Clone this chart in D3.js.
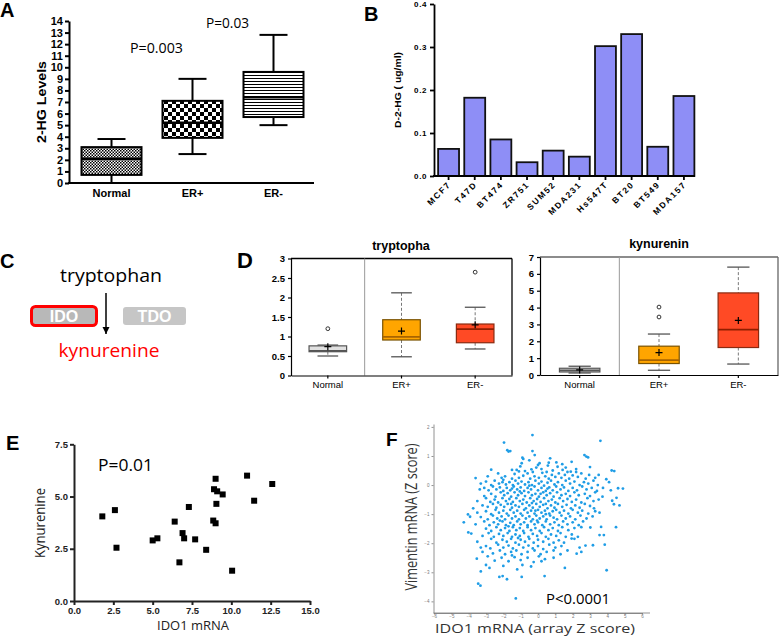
<!DOCTYPE html>
<html><head><meta charset="utf-8">
<script src="https://cdn.jsdelivr.net/npm/d3@7/dist/d3.min.js"></script>
<style>
html,body{margin:0;padding:0;background:#fff}
svg{display:block}
</style></head>
<body><svg id="chart" width="779" height="637"></svg>
<script>
// ================= DATA =================
// Panel A
const aGroups = ["Normal", "ER+", "ER-"];
const aLow  = [0.0, 2.5, 5.0];
const aQ1   = [0.7, 3.9, 5.7];
const aMed  = [2.1, 5.2, 7.4];
const aQ3   = [3.1, 7.1, 9.6];
const aHigh = [3.8, 9.0, 12.8];
const aTicks = [0,1,2,3,4,5,6,7,8,9,10,11,12,13,14];
const aPvals = ["P=0.003", "P=0.03"];

// Panel B
const bCells  = ["MCF7","T47D","BT474","ZR751","SUM52","MDA231","Hs547T","BT20","BT549","MDA157"];
const bValues = [0.063, 0.182, 0.085, 0.032, 0.059, 0.045, 0.302, 0.330, 0.068, 0.186];
const bTicks  = [0.0, 0.1, 0.2, 0.3, 0.4];

// Panel D
const dGroups = ["Normal", "ER+", "ER-"];
const trpLow  = [0.50, 0.48, 0.68];
const trpQ1   = [0.61, 0.91, 0.84];
const trpMed  = [0.63, 0.99, 1.19];
const trpQ3   = [0.76, 1.43, 1.32];
const trpHigh = [0.78, 2.12, 1.75];
const trpMean = [0.74, 1.14, 1.30];
const trpOutG = ["Normal", "ER-"];
const trpOutV = [1.20, 2.65];
const trpTicks = [0, 0.5, 1, 1.5, 2, 2.5, 3];

const kynLow  = [0.12, 0.28, 0.65];
const kynQ1   = [0.18, 0.68, 1.63];
const kynMed  = [0.28, 0.88, 2.69];
const kynQ3   = [0.40, 1.71, 4.87];
const kynHigh = [0.52, 2.43, 6.40];
const kynMean = [0.30, 1.33, 3.24];
const kynOutG = ["ER+", "ER+"];
const kynOutV = [4.03, 3.44];
const kynTicks = [0,1,2,3,4,5,6,7];

// Panel E
const eX = [1.8, 2.6, 2.7, 5.0, 5.3, 6.4, 6.7, 6.9, 7.0, 7.3, 7.7, 8.4, 9.0, 8.9, 9.1, 9.45, 9.05, 8.85, 9.0, 10.05, 11.0, 11.45, 12.6];
const eY = [4.05, 4.35, 2.55, 2.9, 3.0, 3.8, 1.85, 3.25, 3.0, 4.5, 2.95, 2.45, 5.85, 5.35, 5.25, 5.1, 4.65, 3.85, 3.72, 1.45, 6.0, 4.8, 5.6];
const eXTicks = [0, 2.5, 5, 7.5, 10, 12.5, 15];
const eYTicks = [0, 2.5, 5, 7.5];

// Panel F (IDO1 z-score, Vimentin z-score)
const fPoints = [
[-0.32,1.72],[3.6,1.52],[-1.96,1.46],[-1.77,1.2],[-1.7,1.15],[-1.6,1.17],[-0.32,1.17],[-0.19,1.03],[2.68,1.03],[2.79,0.98],[2.89,0.95],[0.7,0.92],[-0.9,0.94],[-0.85,0.9],[1.94,0.8],[1.06,0.78],[0.62,0.77],[1.4,0.72],[-0.5,0.85],
[-2.7,0.53],[4.25,0.5],[-1.5,0.52],[-1.23,0.52],[-0.75,0.48],[-0.38,0.54],[0,0.69],[0.09,0.75],[0.57,0.67],[1.13,0.63],[1.42,0.52],[1.89,0.46],[-0.94,0.75],[-1.02,0.64],[0.2,0.55],[-0.1,0.6],[1.6,0.6],[2.2,0.55],[3.0,0.62],[-1.1,0.47],[0.85,0.5],
[-3.6,0.24],[-2.3,0.4],[-1.9,0.3],[-1.5,0.22],[-1.35,0.38],[-1.1,0.25],[-0.85,0.32],[-0.6,0.4],[-0.45,0.22],[-0.2,0.3],[0.05,0.25],[0.25,0.42],[0.42,0.3],[0.62,0.22],[0.8,0.35],[1.0,0.28],[1.2,0.4],[1.35,0.25],[1.55,0.35],[1.8,0.22],[2.0,0.33],[2.3,0.28],[2.5,0.4],[2.75,0.22],[2.95,0.35],[3.3,0.25],[3.5,0.35],[3.94,0.2],[4.4,0.48],[-2.9,0.3],[-2.1,0.25],[-0.3,0.45],[0.5,0.45],[1.7,0.45],[2.2,0.45],
[-3.3,0.05],[-3.0,0.12],[-2.7,0.0],[-2.5,0.15],[-2.25,0.05],[-2.0,0.18],[-1.85,0.02],[-1.65,0.1],[-1.45,0.0],[-1.3,0.15],[-1.15,0.05],[-0.95,0.12],[-0.75,0.02],[-0.55,0.1],[-0.35,0.0],[-0.15,0.15],[0.05,0.05],[0.2,0.12],[0.35,-0.02],[0.55,0.08],[0.75,0.15],[0.95,0.02],[1.15,0.1],[1.4,0.0],[1.6,0.15],[1.85,0.05],[2.1,0.12],[2.4,0.0],[2.65,0.1],[2.9,0.05],[3.2,0.15],[3.45,0.0],[4.1,0.1],[4.9,-0.12],[4.62,-0.11],[-2.05,0.1],
[-3.36,-0.15],[-3.1,-0.1],[-2.85,-0.18],[-2.6,-0.05],[-2.4,-0.15],[-2.2,-0.08],[-2.0,-0.2],[-1.8,-0.1],[-1.6,-0.18],[-1.4,-0.05],[-1.2,-0.15],[-1.0,-0.08],[-0.8,-0.2],[-0.6,-0.1],[-0.4,-0.15],[-0.2,-0.05],[0.0,-0.18],[0.2,-0.1],[0.45,-0.2],[0.65,-0.08],[0.85,-0.18],[1.05,-0.05],[1.3,-0.15],[1.5,-0.08],[1.75,-0.2],[2.0,-0.1],[2.25,-0.18],[2.55,-0.05],[2.8,-0.15],[3.1,-0.1],[3.4,-0.2],[3.75,-0.1],[4.2,-0.18],[-1.5,-0.12],[-0.5,-0.02],[0.55,-0.12],
[-3.1,-0.38],[-2.7,-0.3],[-2.45,-0.4],[-2.15,-0.25],[-1.95,-0.35],[-1.75,-0.28],[-1.55,-0.4],[-1.35,-0.25],[-1.15,-0.35],[-0.95,-0.28],[-0.75,-0.38],[-0.55,-0.25],[-0.35,-0.35],[-0.15,-0.3],[0.05,-0.4],[0.3,-0.25],[0.5,-0.35],[0.7,-0.28],[0.9,-0.4],[1.1,-0.25],[1.35,-0.35],[1.6,-0.3],[1.85,-0.38],[2.1,-0.25],[2.35,-0.35],[2.7,-0.3],[3.0,-0.38],[3.3,-0.25],[3.72,-0.4],[4.53,-0.44],[-1.05,-0.22],[0.15,-0.3],
[-3.5,-0.55],[-3.0,-0.45],[-2.75,-0.58],[-2.5,-0.5],[-2.3,-0.6],[-2.05,-0.45],[-1.85,-0.55],[-1.65,-0.48],[-1.45,-0.58],[-1.25,-0.45],[-1.05,-0.55],[-0.85,-0.5],[-0.65,-0.6],[-0.45,-0.45],[-0.25,-0.55],[-0.05,-0.48],[0.15,-0.58],[0.35,-0.45],[0.6,-0.55],[0.8,-0.5],[1.0,-0.6],[1.25,-0.45],[1.45,-0.55],[1.7,-0.48],[1.95,-0.58],[2.2,-0.5],[2.5,-0.6],[2.85,-0.45],[3.2,-0.55],[3.5,-0.5],[4.28,-0.54],[4.38,-0.66],[-1.55,-0.65],[-0.35,-0.62],[0.45,-0.65],
[-3.74,-0.8],[-3.2,-0.7],[-2.9,-0.75],[-2.6,-0.65],[-2.4,-0.78],[-2.15,-0.68],[-1.95,-0.75],[-1.75,-0.65],[-1.5,-0.78],[-1.3,-0.7],[-1.1,-0.75],[-0.9,-0.65],[-0.7,-0.8],[-0.5,-0.7],[-0.3,-0.78],[-0.1,-0.65],[0.1,-0.75],[0.3,-0.68],[0.55,-0.8],[0.75,-0.7],[0.95,-0.78],[1.15,-0.65],[1.4,-0.75],[1.65,-0.68],[1.9,-0.8],[2.15,-0.7],[2.4,-0.78],[2.7,-0.65],[3.23,-0.8],[3.0,-0.72],[4.7,-0.7],[-0.15,-0.88],[0.85,-0.9],
[-3.5,-0.95],[-3.0,-0.9],[-2.7,-1.0],[-2.45,-0.85],[-2.25,-0.95],[-2.0,-0.88],[-1.8,-0.98],[-1.6,-0.85],[-1.4,-0.95],[-1.2,-0.88],[-1.0,-0.98],[-0.8,-0.85],[-0.6,-0.95],[-0.4,-0.88],[-0.2,-0.98],[0.0,-0.85],[0.2,-0.95],[0.4,-0.88],[0.65,-0.98],[1.05,-0.85],[1.25,-0.95],[1.5,-0.88],[1.75,-0.98],[2.0,-0.85],[2.3,-0.95],[2.55,-0.88],[2.9,-0.98],[3.3,-0.9],[3.55,-0.95],
[-4.04,-1.01],[-3.92,-1.09],[-3.3,-1.1],[-2.9,-1.18],[-2.6,-1.05],[-2.35,-1.15],[-2.1,-1.08],[-1.9,-1.18],[-1.7,-1.05],[-1.5,-1.15],[-1.3,-1.08],[-1.1,-1.18],[-0.9,-1.05],[-0.7,-1.15],[-0.5,-1.08],[-0.3,-1.18],[-0.1,-1.05],[0.1,-1.15],[0.3,-1.08],[0.5,-1.18],[0.7,-1.05],[0.9,-1.12],[1.1,-1.18],[1.35,-1.05],[1.6,-1.15],[1.85,-1.08],[2.15,-1.18],[2.45,-1.05],[2.8,-1.15],[3.15,-1.08],[0.45,-1.0],[-0.05,-1.22],
[-4.28,-1.28],[-3.6,-1.35],[-3.1,-1.25],[-2.8,-1.38],[-2.55,-1.28],[-2.3,-1.35],[-2.05,-1.25],[-1.85,-1.38],[-1.6,-1.3],[-1.4,-1.38],[-1.2,-1.25],[-1.0,-1.35],[-0.8,-1.28],[-0.6,-1.38],[-0.4,-1.25],[-0.2,-1.35],[0.0,-1.28],[0.25,-1.38],[0.45,-1.25],[0.7,-1.35],[0.95,-1.28],[1.2,-1.38],[1.45,-1.25],[1.7,-1.35],[2.0,-1.28],[2.35,-1.38],[2.6,-1.25],[-2.2,-1.22],
[-3.0,-1.5],[-2.7,-1.58],[-2.4,-1.45],[-2.15,-1.55],[-1.9,-1.48],[-1.65,-1.58],[-1.45,-1.45],[-1.25,-1.55],[-1.05,-1.48],[-0.85,-1.58],[-0.6,-1.45],[-0.4,-1.55],[-0.15,-1.48],[0.1,-1.58],[0.35,-1.45],[0.6,-1.55],[0.85,-1.48],[1.15,-1.58],[1.4,-1.45],[1.75,-1.55],[2.1,-1.48],[2.5,-1.45],[3.02,-1.46],[3.64,-1.44],[4.5,-1.45],[-1.7,-1.42],
[-4.02,-1.63],[-3.85,-1.67],[-3.2,-1.75],[-2.85,-1.65],[-2.55,-1.78],[-2.25,-1.68],[-2.0,-1.75],[-1.75,-1.65],[-1.5,-1.78],[-1.3,-1.7],[-1.05,-1.75],[-0.8,-1.65],[-0.55,-1.78],[-0.3,-1.68],[-0.05,-1.75],[0.2,-1.65],[0.45,-1.78],[0.75,-1.7],[1.05,-1.75],[1.3,-1.65],[1.6,-1.78],[1.95,-1.7],[2.3,-1.78],[3.55,-1.72],[3.8,-1.72],
[-3.5,-1.95],[-2.7,-1.85],[-2.4,-1.98],[-2.05,-1.88],[-1.8,-1.95],[-1.55,-1.85],[-1.3,-1.98],[-1.0,-1.88],[-0.75,-1.95],[-0.5,-1.85],[-0.25,-1.98],[0.0,-1.88],[0.3,-1.95],[0.6,-1.85],[0.9,-1.98],[1.2,-1.9],[1.5,-1.98],[1.94,-1.84],[2.1,-1.85],[-1.15,-1.82],
[-3.0,-2.1],[-2.75,-2.18],[-2.3,-2.05],[-2.0,-2.15],[-1.7,-2.08],[-1.45,-2.18],[-1.1,-2.05],[-0.85,-2.15],[-0.55,-2.08],[-0.3,-2.18],[0.0,-2.1],[0.3,-2.2],[0.65,-2.05],[1.0,-2.15],[1.35,-2.1],[2.74,-2.08],[3.17,-2.07],[3.85,-2.05],[-3.3,-2.15],[2.4,-2.15],
[-3.2,-2.3],[-2.6,-2.35],[-2.2,-2.25],[-1.9,-2.38],[-1.55,-2.3],[-1.25,-2.25],[-0.95,-2.38],[-0.6,-2.3],[-0.2,-2.25],[0.15,-2.38],[0.5,-2.3],[0.9,-2.25],[1.3,-2.38],[2.23,-2.36],[2.5,-2.3],[1.7,-2.25],
[-3.53,-2.53],[-2.9,-2.45],[-2.5,-2.6],[-2.1,-2.5],[-1.7,-2.62],[-1.35,-2.48],[-1.0,-2.58],[-0.6,-2.5],[-0.25,-2.65],[0.05,-2.45],[0.4,-2.55],[0.9,-2.5],[-1.5,-2.42],[0.2,-2.62],
[-3.3,-2.97],[-3.45,-3.39],[-3.32,-3.46],[-1.28,-3.9],[-2.23,-3.16],[-2.04,-3.13],[-1.79,-3.24],[-0.94,-3.16],[0.38,-3.13],[1.55,-2.85],[3.96,-2.93],[-2.8,-2.85],[-2.0,-2.78],[-1.2,-2.9],[-0.9,-2.75],[-0.4,-2.8],[-3.0,-2.75]
];
const fXTicks = [-6,-5,-4,-3,-2,-1,0,1,2,3,4,5,6];
const fYTicks = [-4,-3,-2,-1,0,1,2];

// ================= DRAW =================
const ARIAL = "'Liberation Sans', Arial, sans-serif";
const CAL = "'Open Sans', 'Noto Sans', sans-serif";
const svg = d3.select("#chart");
svg.append("rect").attr("width", 779).attr("height", 637).attr("fill", "#fff");
const defs = svg.append("defs");

function styleAxis(g, size, weight, color, sw) {
  g.attr("font-family", ARIAL).attr("font-size", size).attr("font-weight", weight);
  g.selectAll("text").attr("fill", color);
  g.selectAll("line").attr("stroke", color).attr("stroke-width", sw);
  g.select(".domain").attr("stroke", color).attr("stroke-width", sw);
}
function label(txt, x, y, opts) {
  const t = svg.append("text").attr("x", x).attr("y", y).text(txt)
    .attr("font-family", opts.family || ARIAL)
    .attr("font-size", opts.size || 12)
    .attr("font-weight", opts.weight || "normal")
    .attr("fill", opts.fill || "#000")
    .attr("text-anchor", opts.anchor || "start");
  if (opts.len) t.attr("textLength", opts.len).attr("lengthAdjust", "spacingAndGlyphs");
  if (opts.rotate) t.attr("transform", `rotate(${opts.rotate},${x},${y})`);
  if (opts.ls) t.attr("letter-spacing", opts.ls);
  return t;
}

// ---------- Panel A ----------
{
  const pN = defs.append("pattern").attr("id", "patN").attr("patternUnits", "userSpaceOnUse").attr("width", 3).attr("height", 3);
  pN.append("rect").attr("width", 3).attr("height", 3).attr("fill", "#fff");
  pN.append("rect").attr("width", 1.5).attr("height", 1.5).attr("fill", "#000");
  pN.append("rect").attr("x", 1.5).attr("y", 1.5).attr("width", 1.5).attr("height", 1.5).attr("fill", "#000");
  const pE = defs.append("pattern").attr("id", "patP").attr("patternUnits", "userSpaceOnUse").attr("width", 8).attr("height", 8);
  pE.append("rect").attr("width", 8).attr("height", 8).attr("fill", "#fff");
  pE.append("rect").attr("width", 4).attr("height", 4).attr("fill", "#000");
  pE.append("rect").attr("x", 4).attr("y", 4).attr("width", 4).attr("height", 4).attr("fill", "#000");
  const pM = defs.append("pattern").attr("id", "patM").attr("patternUnits", "userSpaceOnUse").attr("width", 3).attr("height", 3);
  pM.append("rect").attr("width", 3).attr("height", 3).attr("fill", "#fff");
  pM.append("rect").attr("width", 3).attr("height", 1).attr("fill", "#000");
  const pats = ["url(#patN)", "url(#patP)", "url(#patM)"];

  const x = d3.scaleBand().domain(aGroups).range([71, 314]);
  const y = d3.scaleLinear().domain([0, 14]).range([183, 21]);
  const bw = 60, cw = 28;
  const g = svg.append("g");
  aGroups.forEach((k, i) => {
    const cx = x(k) + x.bandwidth() / 2;
    g.append("line").attr("x1", cx).attr("x2", cx).attr("y1", y(aHigh[i])).attr("y2", y(aQ3[i])).attr("stroke", "#000").attr("stroke-width", 2);
    g.append("line").attr("x1", cx).attr("x2", cx).attr("y1", y(aQ1[i])).attr("y2", y(aLow[i])).attr("stroke", "#000").attr("stroke-width", 2);
    g.append("line").attr("x1", cx - cw / 2).attr("x2", cx + cw / 2).attr("y1", y(aHigh[i])).attr("y2", y(aHigh[i])).attr("stroke", "#000").attr("stroke-width", 2);
    g.append("line").attr("x1", cx - cw / 2).attr("x2", cx + cw / 2).attr("y1", y(aLow[i])).attr("y2", y(aLow[i])).attr("stroke", "#000").attr("stroke-width", 2);
    g.append("rect").attr("x", cx - bw / 2).attr("width", bw).attr("y", y(aQ3[i])).attr("height", y(aQ1[i]) - y(aQ3[i]))
      .attr("fill", pats[i]).attr("stroke", "#000").attr("stroke-width", 2);
    g.append("line").attr("x1", cx - bw / 2).attr("x2", cx + bw / 2).attr("y1", y(aMed[i])).attr("y2", y(aMed[i])).attr("stroke", "#000").attr("stroke-width", 2.5);
  });
  const ya = svg.append("g").attr("transform", "translate(69,0)")
    .call(d3.axisLeft(y).tickValues(aTicks).tickFormat(d3.format("d")).tickSize(4).tickSizeOuter(0).tickPadding(2));
  styleAxis(ya, 11, "bold", "#000", 2);
  const xa = svg.append("g").attr("transform", "translate(0,183)")
    .call(d3.axisBottom(x).tickSize(0).tickPadding(6));
  styleAxis(xa, 11, "bold", "#000", 2);
  xa.select(".domain").remove();
  svg.append("line").attr("x1", 68).attr("x2", 314).attr("y1", 183).attr("y2", 183).attr("stroke", "#000").attr("stroke-width", 2);
  label("2-HG  Levels", 46, 102, { size: 13, weight: "bold", anchor: "middle", rotate: -90, len: 82 });
  label(aPvals[0], 130, 53, { family: CAL, size: 14, len: 53 });
  label(aPvals[1], 206, 28, { family: CAL, size: 14, len: 43 });
  label("A", 0, 17, { size: 20, weight: "bold" });
}

// ---------- Panel B ----------
{
  const x = d3.scaleBand().domain(bCells).range([435.5, 697]).paddingInner(0.2).paddingOuter(0.1);
  const y = d3.scaleLinear().domain([0, 0.4]).range([176, 4]);
  svg.append("g").selectAll("rect").data(bCells).join("rect")
    .attr("x", d => x(d)).attr("width", x.bandwidth())
    .attr("y", (d, i) => y(bValues[i])).attr("height", (d, i) => y(0) - y(bValues[i]))
    .attr("fill", "#8e8ef6").attr("stroke", "#111").attr("stroke-width", 1.8);
  const ya = svg.append("g").attr("transform", "translate(434,0)")
    .call(d3.axisLeft(y).tickValues(bTicks).tickFormat(d3.format(".1f")).tickSize(4).tickSizeOuter(0).tickPadding(3));
  styleAxis(ya, 8, "bold", "#000", 1.8);
  ya.selectAll("text").attr("letter-spacing", 0.6);
  const xa = svg.append("g").attr("transform", "translate(0,176)")
    .call(d3.axisBottom(x).tickSize(4).tickSizeOuter(0));
  styleAxis(xa, 8, "bold", "#000", 1.8);
  xa.select(".domain").remove();
  xa.selectAll("text").remove();
  svg.append("line").attr("x1", 433).attr("x2", 695).attr("y1", 176).attr("y2", 176).attr("stroke", "#000").attr("stroke-width", 1.8);
  bCells.forEach(d => {
    const cx = x(d) + x.bandwidth() / 2 + 3;
    label(d, cx, 185, { size: 8.5, weight: "bold", anchor: "end", rotate: -45, ls: 1.6 });
  });
  label("D-2-HG ( ug/ml)", 401, 90, { size: 8.5, weight: "bold", anchor: "middle", rotate: -90, len: 76 });
  label("B", 364, 21, { size: 20, weight: "bold" });
}

// ---------- Panel C ----------
{
  label("C", 0, 268, { size: 20, weight: "bold" });
  label("tryptophan", 111, 282, { family: CAL, size: 19, anchor: "middle", len: 102 });
  const mk = defs.append("marker").attr("id", "arr").attr("viewBox", "0 0 10 10").attr("refX", 10).attr("refY", 5)
    .attr("markerWidth", 5).attr("markerHeight", 5).attr("markerUnits", "strokeWidth").attr("orient", "auto");
  mk.append("path").attr("d", "M0,0L10,5L0,10z").attr("fill", "#000");
  svg.append("line").attr("x1", 106).attr("x2", 106).attr("y1", 293).attr("y2", 334).attr("stroke", "#000").attr("stroke-width", 1.5).attr("marker-end", "url(#arr)");
  svg.append("rect").attr("x", 31.5).attr("y", 306.5).attr("width", 65).attr("height", 19).attr("rx", 4)
    .attr("fill", "#b8b8b8").attr("stroke", "#ff0000").attr("stroke-width", 3);
  label("IDO", 64, 322, { size: 16, weight: "bold", fill: "#fff", anchor: "middle" });
  svg.append("rect").attr("x", 123).attr("y", 307).attr("width", 63).attr("height", 18).attr("rx", 3).attr("fill", "#c6c6c6");
  label("TDO", 154.5, 322, { size: 16, weight: "bold", fill: "#fff", anchor: "middle" });
  label("kynurenine", 109, 357, { family: CAL, size: 19, anchor: "middle", len: 101, fill: "#ff0000" });
}

// ---------- Panel D ----------
const dFill = ["#e0e0e0", "#ffa500", "#ff4a25"];
const dStroke = ["#555", "#7a5200", "#8a2a10"];
const dMedC = ["#555", "#a86400", "#8f1e00"];
function boxPlot(x0, x1, y0, y1, ymax, ticks, lo, q1, med, q3, hi, mean, outG, outV, title, titleX, titleY, frameCol) {
  const x = d3.scaleBand().domain(dGroups).range([x0, x1]);
  const y = d3.scaleLinear().domain([0, ymax]).range([y1, y0]);
  const g = svg.append("g");
  const bw = x.bandwidth() * 0.51, cw = bw * 0.55;
  g.append("line").attr("x1", x0).attr("x2", x1).attr("y1", y0).attr("y2", y0).attr("stroke", frameCol).attr("stroke-width", 1.3);
  g.append("line").attr("x1", x1).attr("x2", x1).attr("y1", y0).attr("y2", y1).attr("stroke", frameCol).attr("stroke-width", 1.3);
  const sep = x(dGroups[1]);
  g.append("line").attr("x1", sep).attr("x2", sep).attr("y1", y0).attr("y2", y1).attr("stroke", "#999").attr("stroke-width", 1);
  dGroups.forEach((k, i) => {
    const cx = x(k) + x.bandwidth() / 2;
    g.append("line").attr("x1", cx).attr("x2", cx).attr("y1", y(hi[i])).attr("y2", y(q3[i])).attr("stroke", "#777").attr("stroke-width", 1).attr("stroke-dasharray", "3,2");
    g.append("line").attr("x1", cx).attr("x2", cx).attr("y1", y(q1[i])).attr("y2", y(lo[i])).attr("stroke", "#777").attr("stroke-width", 1).attr("stroke-dasharray", "3,2");
    g.append("line").attr("x1", cx - cw / 2).attr("x2", cx + cw / 2).attr("y1", y(hi[i])).attr("y2", y(hi[i])).attr("stroke", "#555").attr("stroke-width", 1.3);
    g.append("line").attr("x1", cx - cw / 2).attr("x2", cx + cw / 2).attr("y1", y(lo[i])).attr("y2", y(lo[i])).attr("stroke", "#555").attr("stroke-width", 1.3);
    g.append("rect").attr("x", cx - bw / 2).attr("width", bw).attr("y", y(q3[i])).attr("height", y(q1[i]) - y(q3[i]))
      .attr("fill", dFill[i]).attr("stroke", dStroke[i]).attr("stroke-width", 1.2);
    g.append("line").attr("x1", cx - bw / 2).attr("x2", cx + bw / 2).attr("y1", y(med[i])).attr("y2", y(med[i])).attr("stroke", dMedC[i]).attr("stroke-width", 1.8);
    const my = y(mean[i]);
    g.append("path").attr("d", `M${cx - 3.5},${my}H${cx + 3.5}M${cx},${my - 3.5}V${my + 3.5}`).attr("stroke", "#000").attr("stroke-width", 1.2);
  });
  outG.forEach((k, i) => {
    g.append("circle").attr("cx", x(k) + x.bandwidth() / 2).attr("cy", y(outV[i])).attr("r", 1.9)
      .attr("fill", "#fff").attr("stroke", "#333").attr("stroke-width", 1);
  });
  const ya = svg.append("g").attr("transform", `translate(${x0},0)`)
    .call(d3.axisLeft(y).tickValues(ticks).tickFormat(d3.format("~g")).tickSize(3).tickSizeOuter(0).tickPadding(3));
  styleAxis(ya, 9.5, "bold", "#000", 1.2);
  const xa = svg.append("g").attr("transform", `translate(0,${y1})`)
    .call(d3.axisBottom(x).tickSize(3).tickSizeOuter(0).tickPadding(3));
  styleAxis(xa, 9.5, "normal", "#000", 1.2);
  label(title, titleX, titleY, { size: 12.5, weight: "bold", anchor: "middle" });
}
boxPlot(291, 512, 258.5, 375.5, 3, trpTicks, trpLow, trpQ1, trpMed, trpQ3, trpHigh, trpMean, trpOutG, trpOutV, "tryptopha", 401, 250, "#000");
boxPlot(540, 778, 257, 375, 7, kynTicks, kynLow, kynQ1, kynMed, kynQ3, kynHigh, kynMean, kynOutG, kynOutV, "kynurenin", 659, 248, "#666");
label("D", 237, 268, { size: 22, weight: "bold" });

// ---------- Panel E ----------
{
  const x = d3.scaleLinear().domain([0, 15]).range([74, 310]);
  const y = d3.scaleLinear().domain([0, 7.5]).range([601, 444.3]);
  const s = 6;
  svg.append("g").selectAll("rect").data(eX).join("rect")
    .attr("x", d => x(d) - s / 2).attr("y", (d, i) => y(eY[i]) - s / 2).attr("width", s).attr("height", s).attr("fill", "#000");
  const ya = svg.append("g").attr("transform", "translate(74,0)")
    .call(d3.axisLeft(y).tickValues(eYTicks).tickFormat(d3.format(".1f")).tickSize(4).tickSizeOuter(0).tickPadding(2));
  styleAxis(ya, 9.5, "bold", "#222", 2);
  const xa = svg.append("g").attr("transform", "translate(0,601)")
    .call(d3.axisBottom(x).tickValues(eXTicks).tickFormat(d3.format(".1f")).tickSize(4).tickSizeOuter(0).tickPadding(2));
  styleAxis(xa, 9.5, "bold", "#222", 2);
  label("Kynurenine", 45, 523, { family: CAL, size: 14, anchor: "middle", rotate: -90, len: 70, fill: "#222" });
  label("IDO1 mRNA", 193, 630, { family: CAL, size: 13, anchor: "middle", len: 72, fill: "#222" });
  label("P=0.01", 98, 471, { family: CAL, size: 17, len: 55 });
  label("E", 6, 450, { size: 20, weight: "bold" });
}

// ---------- Panel F ----------
{
  const x = d3.scaleLinear().domain([-6, 6]).range([434, 642]);
  const y = d3.scaleLinear().domain([-4.4, 2.1]).range([613, 424]);
  svg.append("g").selectAll("circle").data(fPoints).join("circle")
    .attr("cx", d => x(d[0])).attr("cy", d => y(d[1])).attr("r", 1.4).attr("fill", "#1f9de6");
  const ya = svg.append("g").attr("transform", "translate(433.5,0)")
    .call(d3.axisLeft(y).tickValues(fYTicks).tickFormat(d3.format("d")).tickSize(2).tickSizeOuter(0).tickPadding(2));
  styleAxis(ya, 4.5, "normal", "#777", 0.8);
  const xa = svg.append("g").attr("transform", "translate(0,613)")
    .call(d3.axisBottom(x).tickValues(fXTicks).tickFormat(d3.format("d")).tickSize(1.5).tickSizeOuter(0).tickPadding(0.5));
  styleAxis(xa, 4.5, "normal", "#777", 0.8);
  svg.append("line").attr("x1", 433.5).attr("x2", 650).attr("y1", 613).attr("y2", 613).attr("stroke", "#777").attr("stroke-width", 0.8);
  label("Vimentin mRNA (Z score)", 417, 517, { family: CAL, size: 16, anchor: "middle", rotate: -90, len: 147, fill: "#333" });
  label("IDO1 mRNA (array Z score)", 535, 632.5, { family: CAL, size: 13, anchor: "middle", len: 200, fill: "#333" });
  label("P<0.0001", 546, 604, { family: CAL, size: 15, len: 64 });
  label("F", 386, 446, { size: 19, weight: "bold" });
}
</script>
</body></html>
